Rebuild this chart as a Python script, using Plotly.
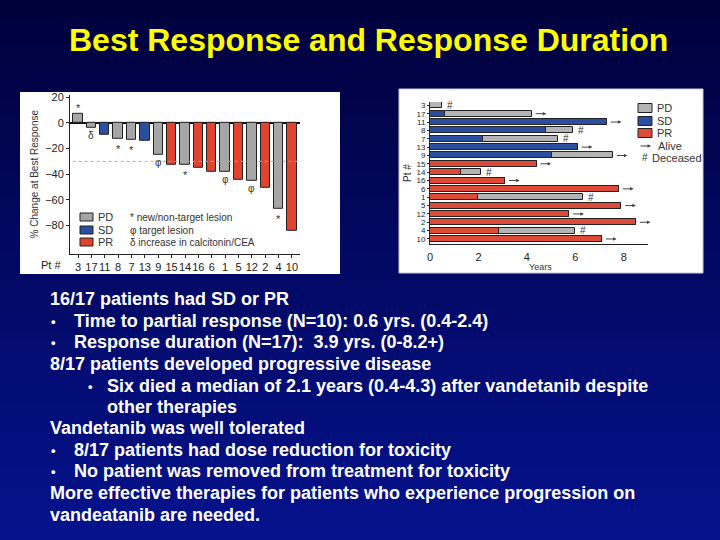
import plotly.graph_objects as go

# ---------------- data ----------------
wf_patients = ["3", "17", "11", "8", "7", "13", "9", "15", "14", "16", "6", "1", "5", "12", "2", "4", "10"]
wf_change = [7, -4, -9, -12, -13, -14, -25, -33, -33, -35, -38, -38, -44, -45, -51, -67, -84]
wf_response = ["PD", "PD", "SD", "PD", "PD", "SD", "PD", "PR", "PD", "PR", "PR", "PD", "PR", "PD", "PR", "PD", "PR"]
wf_marks = ["*", "δ", "", "*", "*", "", "φ", "", "*", "", "", "φ", "", "φ", "", "*", ""]
wf_ticks = [20, 0, -20, -40, -60, -80]

sw_patients = ["3", "17", "11", "8", "7", "13", "9", "15", "14", "16", "6", "1", "5", "12", "2", "4", "10"]
sw_response = ["PD", "SD", "SD", "SD", "SD", "SD", "SD", "PR", "PR", "PR", "PR", "PR", "PR", "PR", "PR", "PR", "PR"]
sw_response_end = [0, 0.6, 7.3, 4.8, 2.2, 6.1, 5.05, 4.4, 1.3, 3.1, 7.8, 2.0, 7.9, 5.75, 8.5, 2.85, 7.1]
sw_total = [0.5, 4.2, 7.3, 5.9, 5.3, 6.1, 7.55, 4.4, 2.1, 3.1, 7.8, 6.3, 7.9, 5.75, 8.5, 6.0, 7.1]
sw_status = ["Deceased", "Alive", "Alive", "Deceased", "Deceased", "Alive", "Alive", "Alive", "Deceased",
             "Alive", "Alive", "Deceased", "Alive", "Alive", "Alive", "Deceased", "Alive"]
sw_ticks = [0, 2, 4, 6, 8]

title_text = "Best Response and Response Duration"
body_lines = [
    (0, "16/17 patients had SD or PR"),
    (1, "Time to partial response (N=10): 0.6 yrs. (0.4-2.4)"),
    (1, "Response duration (N=17):  3.9 yrs. (0-8.2+)"),
    (0, "8/17 patients developed progressive disease"),
    (2, "Six died a median of 2.1 years (0.4-4.3) after vandetanib despite"),
    (3, "other therapies"),
    (0, "Vandetanib was well tolerated"),
    (1, "8/17 patients had dose reduction for toxicity"),
    (1, "No patient was removed from treatment for toxicity"),
    (0, "More effective therapies for patients who experience progression on"),
    (0, "vandeatanib are needed."),
]

# ---------------- styles ----------------
W, H = 720, 540
colors = {"PD": "#a6a6a6", "SD": "#2b4f9e", "PR": "#e2432f"}
sw_colors = {"PD": "#b4b4b4", "SD": "#2b4f9e", "PR": "#dc4a38"}
FONT = "Liberation Sans, Arial, sans-serif"


def X(px):
    return px / W


def Y(py):
    return 1 - py / H


def note(x, y, text, size, color="#333", xanchor="center", xref="paper", yref="paper", **kw):
    return dict(x=x, y=y, xref=xref, yref=yref, text=text, showarrow=False, xanchor=xanchor,
                yanchor="middle", font=dict(size=size, color=color, family=FONT), **kw)


fig = go.Figure()
shapes = []
annotations = []

# background gradient
nb = 60
top = (0, 0, 60)
bot = (4, 18, 140)
for i in range(nb):
    t = i / (nb - 1)
    c = tuple(int(round(top[k] + (bot[k] - top[k]) * t)) for k in range(3))
    shapes.append(dict(type="rect", xref="paper", yref="paper", x0=0, x1=1,
                       y0=1 - (i + 1) / nb - 0.002, y1=1 - i / nb,
                       fillcolor=f"rgb{c}", line_width=0, layer="below"))

# white panels
shapes.append(dict(type="rect", xref="paper", yref="paper", x0=X(20), x1=X(340), y0=Y(274), y1=Y(92),
                   fillcolor="white", line_width=0, layer="below"))
shapes.append(dict(type="rect", xref="paper", yref="paper", x0=X(399), x1=X(703), y0=Y(273), y1=Y(89),
                   fillcolor="white", line=dict(color="#c8c8d0", width=1), layer="below"))

# ---------------- waterfall ----------------
xs = list(range(len(wf_patients)))
fig.add_trace(go.Bar(x=xs, y=wf_change, marker=dict(color=[colors[r] for r in wf_response],
                                                      line=dict(color="#222", width=1)),
                     width=0.7, xaxis="x", yaxis="y", showlegend=False))
for i, m in enumerate(wf_marks):
    if m:
        v = wf_change[i]
        if m == "*":
            yy = v + 5 if v > 0 else v - 8
        else:
            yy = v + 6 if v > 0 else v - 6
        annotations.append(note(xs[i], yy, m, 10 if m != "*" else 11, xref="x", yref="y"))
shapes.append(dict(type="line", xref="x", yref="y", x0=-0.4, x1=16.6, y0=-30, y1=-30,
                   line=dict(color="#aaaaaa", width=1, dash="dot")))
annotations.append(note(X(51), Y(265), "Pt #", 11, color="#222"))

# waterfall legend
wf_leg_rows = [("PD", 217, "* new/non-target lesion"), ("SD", 230, "φ target lesion"),
               ("PR", 242, "δ increase in calcitonin/CEA")]
for lab, py, desc in wf_leg_rows:
    shapes.append(dict(type="rect", xref="paper", yref="paper", x0=X(80), x1=X(93), y0=Y(py + 4), y1=Y(py - 4),
                       fillcolor=colors[lab], line=dict(color="#222", width=1)))
    annotations.append(note(X(96), Y(py), lab, 11, xanchor="left"))
    annotations.append(note(X(128), Y(py), desc, 10, xanchor="left"))

# ---------------- swimmer ----------------
ys = list(range(len(sw_patients)))
fig.add_trace(go.Bar(y=ys, x=sw_response_end, base=[0] * len(ys), orientation="h",
                     marker=dict(color=[sw_colors[r] for r in sw_response], line=dict(color="#222", width=1)),
                     width=0.72, xaxis="x2", yaxis="y2", showlegend=False))
fig.add_trace(go.Bar(y=ys, x=[t - r for t, r in zip(sw_total, sw_response_end)], base=sw_response_end,
                     orientation="h",
                     marker=dict(color=sw_colors["PD"], line=dict(color="#222", width=1)),
                     width=0.72, xaxis="x2", yaxis="y2", showlegend=False))
for i, s in enumerate(sw_status):
    t = sw_total[i]
    if s == "Alive":
        annotations.append(dict(x=t + 0.6, y=ys[i], ax=t + 0.1, ay=ys[i], xref="x2", yref="y2",
                                axref="x2", ayref="y2", text="", showarrow=True, arrowhead=2,
                                arrowsize=0.7, arrowwidth=1, arrowcolor="#444"))
    else:
        annotations.append(note(t + 0.12, ys[i], "#", 10, xanchor="left", xref="x2", yref="y2"))

sw_leg_rows = [("PD", 108), ("SD", 121), ("PR", 133)]
for lab, py in sw_leg_rows:
    shapes.append(dict(type="rect", xref="paper", yref="paper", x0=X(638), x1=X(652), y0=Y(py + 4.5),
                       y1=Y(py - 4.5), fillcolor=sw_colors[lab], line=dict(color="#222", width=1)))
    annotations.append(note(X(655), Y(py), lab, 11, xanchor="left"))
annotations.append(dict(x=X(651), y=Y(146), ax=-12, ay=0, xref="paper", yref="paper",
                        axref="pixel", ayref="pixel", text="", showarrow=True, arrowhead=2,
                        arrowsize=0.7, arrowwidth=1, arrowcolor="#444"))
annotations.append(note(X(656), Y(146), "Alive", 11, xanchor="left"))
annotations.append(note(X(640), Y(158), "#", 10, xanchor="left"))
annotations.append(note(X(650), Y(158), "Deceased", 11, xanchor="left"))
annotations.append(note(X(540), Y(267), "Years", 9))

# ---------------- slide text ----------------
annotations.append(note(X(368), Y(40), f"<b>{title_text}</b>", 32, color="#ffff00"))
line_y = [299, 321, 342, 364, 386, 407, 428, 450, 471, 493, 515]
for (lvl, txt), py in zip(body_lines, line_y):
    if lvl == 0:
        tx = 48
    elif lvl == 1:
        tx = 72
        annotations.append(note(X(49), Y(py), "<b>•</b>", 13, color="white", xanchor="left"))
    elif lvl == 2:
        tx = 105
        annotations.append(note(X(86), Y(py), "<b>•</b>", 13, color="white", xanchor="left"))
    else:
        tx = 105
    annotations.append(note(X(tx), Y(py), f"<b>{txt}</b>", 18, color="white", xanchor="left"))

axis_font = dict(size=11, color="#222", family=FONT)
fig.update_layout(
    width=W, height=H, margin=dict(l=0, r=0, t=0, b=0, autoexpand=False),
    paper_bgcolor="rgb(0,0,60)", plot_bgcolor="rgba(0,0,0,0)",
    bargap=0, barmode="overlay",
    shapes=shapes, annotations=annotations,
    xaxis=dict(domain=[X(70), X(300)], range=[-0.6, 16.6], tickvals=xs, ticktext=wf_patients, tickangle=0,
               showline=True, linecolor="#222", linewidth=1, ticks="outside", ticklen=3, tickcolor="#222",
               showgrid=False, zeroline=False, tickfont=axis_font, anchor="y", automargin=False),
    yaxis=dict(domain=[Y(253.6), Y(94.8)], range=[-102, 22], tickvals=wf_ticks,
               showline=True, linecolor="#222", linewidth=1, ticks="outside", ticklen=3, tickcolor="#222",
               showgrid=False, zeroline=True, zerolinecolor="#111", zerolinewidth=1.5,
               tickfont=axis_font, anchor="x", automargin=False,
               title=dict(text="% Change at Best Response", font=dict(size=10, color="#333", family=FONT),
                          standoff=4)),
    xaxis2=dict(domain=[X(430), X(648)], range=[0, 9], tickvals=sw_ticks, tickangle=0,
                showline=True, linecolor="#222", linewidth=1, ticks="", showgrid=False, zeroline=False,
                ticklabelstandoff=3,
                tickfont=dict(size=11, color="#222", family=FONT), anchor="y2", automargin=False),
    yaxis2=dict(domain=[Y(244), Y(102)], range=[16.6, -0.4], tickvals=ys, ticktext=sw_patients,
                showline=True, linecolor="#222", linewidth=1, ticks="outside", ticklen=2, tickcolor="#222",
                showgrid=False, zeroline=False, tickfont=dict(size=8, color="#222", family=FONT),
                anchor="x2", automargin=False,
                title=dict(text="Pt #", font=dict(size=10, color="#333", family=FONT), standoff=2)),
)

fig.write_html("out.html", config={"displayModeBar": False},
               post_script="document.body.style.margin='0';")
